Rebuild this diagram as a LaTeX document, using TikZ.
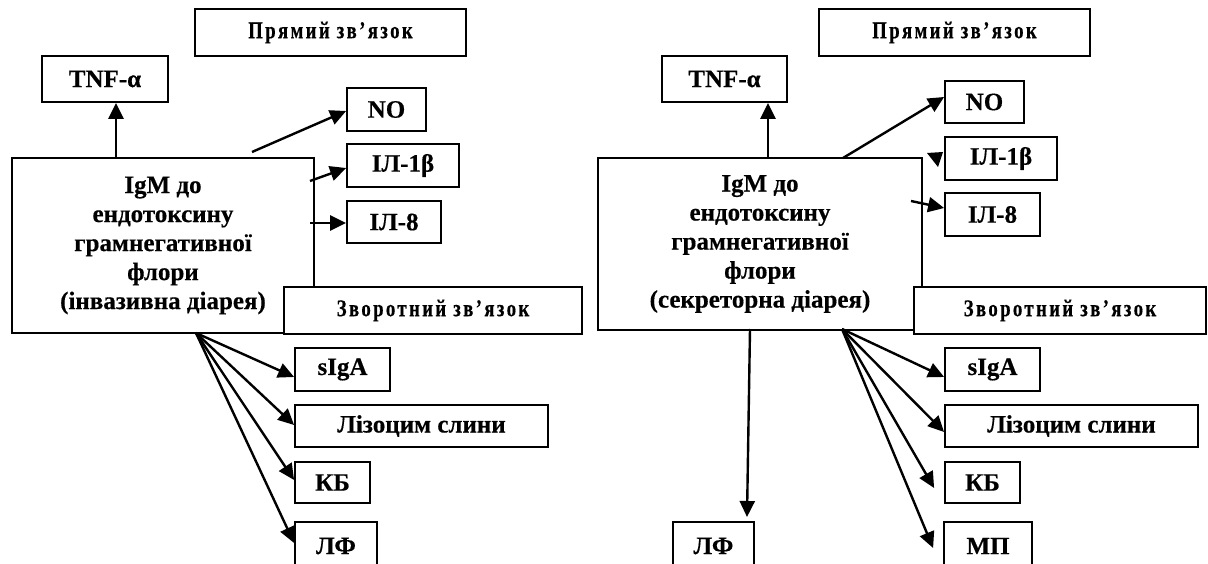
\documentclass[tikz,border=0pt]{standalone}
\usepackage{fontspec}
\setmainfont{Liberation Serif}[FakeBold=0.4]
\newfontfamily\spacedfont{Liberation Serif}[FakeStretch=0.78,LetterSpace=10,FakeBold=0.4]
\usetikzlibrary{arrows.meta}
\begin{document}
\begin{tikzpicture}[x=1pt,y=-1pt,
  bx/.style={draw, fill=white, line width=1.8pt, inner sep=0pt, align=center,
    font=\fontsize{25}{29}\selectfont\bfseries},
  hd/.style={bx, minimum height=47pt, font=\spacedfont\bfseries\fontsize{24}{28}\selectfont},
  arr/.style={line width=2.4pt, -{Triangle[length=16pt,width=15pt]}}]
\useasboundingbox (0,0) rectangle (1208,564);
\clip (0,0) rectangle (1208,564);
% ---------------- left panel ----------------
\node[hd, minimum width=271pt] (pr1) at (330.5,32.5) {Прямий зв’язок};
\node[bx, minimum width=126pt, minimum height=46pt] (tnf1) at (105,79) {TNF-α};
\node[bx, minimum width=79pt, minimum height=43pt] (no1) at (386.5,109.5) {NO};
\node[bx, minimum width=112pt, minimum height=43pt] (ilb1) at (403,165.5) {ІЛ-1β};
\node[bx, minimum width=94pt, minimum height=42pt] (il81) at (394,222) {ІЛ-8};
\node[bx, minimum width=302pt, minimum height=175pt] (main1) at (163,245.5)
  {IgM до\\ендотоксину\\грамнегативної\\флори\\(інвазивна діарея)};
\node[hd, minimum width=298pt] (zv1) at (433,310.5) {Зворотний зв’язок};
\node[bx, minimum width=95pt, minimum height=43pt] (sig1) at (342.5,369.5) {sIgA};
\node[bx, minimum width=253pt, minimum height=42pt] (liz1) at (421.5,426) {Лізоцим слини};
\node[bx, minimum width=75pt, minimum height=41pt] (kb1) at (332.5,482.5) {КБ};
\node[bx, minimum width=82pt, minimum height=48pt] (lf1) at (336,546) {ЛФ};
\coordinate (t1) at (116,158);
\coordinate (n1) at (252,152);
\coordinate (b1) at (310,181);
\coordinate (e1) at (310,223);
\coordinate (f1) at (196,333);
\draw[arr] (t1) -- (t1 |- tnf1.south);
\draw[arr] (n1) -- ([yshift=-1.5pt]no1.west);
\draw[arr] (b1) -- ([yshift=-2.5pt]ilb1.west);
\draw[arr] (e1) -- ([yshift=-1pt]il81.west);
\draw[arr] (f1) -- ([yshift=-7.5pt]sig1.west);
\draw[arr] (f1) -- ([yshift=1pt]liz1.west);
\draw[arr] (f1) -- ([yshift=2.5pt]kb1.west);
\draw[arr] (f1) -- ([yshift=3pt]lf1.west);
% ---------------- right panel ----------------
\node[hd, minimum width=271pt] (pr2) at (954.5,32.5) {Прямий зв’язок};
\node[bx, minimum width=125pt, minimum height=46pt] (tnf2) at (724.5,79) {TNF-α};
\node[bx, minimum width=79pt, minimum height=42pt] (no2) at (984.5,102) {NO};
\node[bx, minimum width=112pt, minimum height=43pt] (ilb2) at (1001,158.5) {ІЛ-1β};
\node[bx, minimum width=95pt, minimum height=43pt] (il82) at (992.5,214.5) {ІЛ-8};
\node[bx, minimum width=324pt, minimum height=172pt] (main2) at (760,244)
  {IgM до\\ендотоксину\\грамнегативної\\флори\\(секреторна діарея)};
\node[hd, minimum width=292pt] (zv2) at (1060,310.5) {Зворотний зв’язок};
\node[bx, minimum width=95pt, minimum height=43pt] (sig2) at (992.5,369.5) {sIgA};
\node[bx, minimum width=253pt, minimum height=42pt] (liz2) at (1071.5,426) {Лізоцим слини};
\node[bx, minimum width=75pt, minimum height=41pt] (kb2) at (982.5,482.5) {КБ};
\node[bx, minimum width=88pt, minimum height=48pt] (mp2) at (988,546) {МП};
\node[bx, minimum width=81pt, minimum height=48pt] (lf2) at (713.5,546) {ЛФ};
\coordinate (t2) at (768,158);
\coordinate (n2) at (843,158);
\coordinate (e2) at (911,201);
\coordinate (f2) at (842,329);
\coordinate (l2) at (750,329);
\coordinate (l2e) at (747,517);
\draw[arr] (t2) -- (t2 |- tnf2.south);
\draw[arr] (n2) -- ([yshift=5pt]no2.west);
\fill (927,153) -- (943,152) -- (938,167) -- cycle;
\draw[arr] (e2) -- ([yshift=6.5pt]il82.west);
\draw[arr] (f2) -- ([yshift=-7.5pt]sig2.west);
\draw[arr] (f2) -- ([yshift=-6pt]liz2.west);
\draw[arr] (f2) -- ([xshift=-10pt,yshift=-5.5pt]kb2.west);
\draw[arr] (f2) -- ([xshift=-10pt,yshift=-2pt]mp2.west);
\draw[arr] (l2) -- (l2e);
\end{tikzpicture}
\end{document}
